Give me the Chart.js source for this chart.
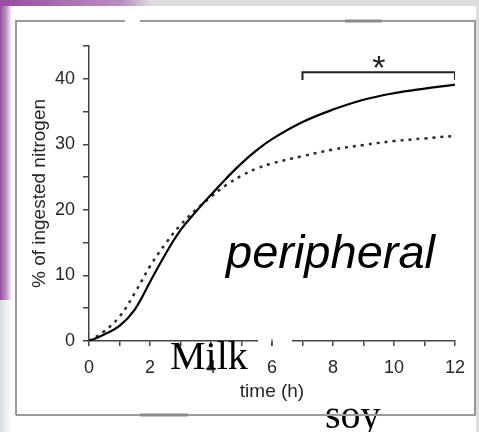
<!DOCTYPE html>
<html lang="en">
<head>
<meta charset="UTF-8">
<title>Nitrogen uptake</title>
<script src="https://cdn.jsdelivr.net/npm/chart.js"></script>
<style>
  html, body { margin: 0; padding: 0; background: #fff; }
</style>
</head>
<body>
<canvas id="uptakeChart" width="479" height="432"></canvas>
<script>
// hours after the meal and % of ingested nitrogen in the peripheral pool
const hours = [0, 0.5, 1, 1.5, 2, 2.5, 3, 3.5, 4, 4.5, 5, 5.5, 6, 7, 8, 9, 10, 11, 12];
const milkUptake = [0, 1.0, 2.3, 4.8, 9.0, 13.2, 16.9, 19.7, 22.3, 24.8, 27.1, 29.1, 30.8, 33.4, 35.3, 36.8, 37.8, 38.5, 39.1];
const soyUptake = [0, 1.5, 3.7, 7.3, 11.4, 14.8, 17.7, 20.0, 22.0, 23.8, 25.2, 26.3, 27.1, 28.2, 29.2, 29.9, 30.5, 30.9, 31.3];

// significance bracket over 7-12 h
const bracketX = [7, 7, 12, 12];
const bracketY = [39.8, 41, 41, 39.8];
const asteriskAt = [9.5, 42.6];

const xMax = 12;
const yMax = 45;

const toPoints = (xs, ys) => xs.map((x, i) => ({ x: x, y: ys[i] }));

const axisFont = { family: 'Liberation Sans, Arial, sans-serif', size: 18 };
const titleFont = { family: 'Liberation Sans, Arial, sans-serif', size: 19 };
const axisText = '#262626';

const decorations = {
    id: 'decorations',
    beforeDraw(chart) {
        const c = chart.ctx;
        const w = chart.width, h = chart.height;
        c.save();
        c.fillStyle = '#fff';
        c.fillRect(0, 0, w, h);

        // slide edge: purple strip on the left, grey below and along the top
        let g = c.createLinearGradient(0, 0, 12, 0);
        g.addColorStop(0, 'rgba(150,75,160,1)');
        g.addColorStop(0.5, 'rgba(160,90,170,0.7)');
        g.addColorStop(1, 'rgba(160,90,170,0)');
        c.fillStyle = g;
        c.fillRect(0, 0, 12, 300);
        g = c.createLinearGradient(0, 0, 12, 0);
        g.addColorStop(0, '#d8dbde');
        g.addColorStop(1, 'rgba(216,219,222,0)');
        c.fillStyle = g;
        c.fillRect(0, 300, 12, h - 300);

        g = c.createLinearGradient(0, 0, 150, 0);
        g.addColorStop(0, 'rgba(150,75,160,1)');
        g.addColorStop(0.8, 'rgba(170,110,180,0.8)');
        g.addColorStop(1, '#dcdcdc');
        c.fillStyle = g;
        c.fillRect(0, 0, 150, 6);
        c.fillStyle = '#dcdcdc';
        c.fillRect(150, 0, w - 150, 6);
        c.fillRect(w - 3, 0, 3, h);
        c.restore();
    },
    afterDraw(chart) {
        const c = chart.ctx;
        const xs = chart.scales.x, ys = chart.scales.y;
        c.save();

        // break in the time axis, the tick at 6 h stays
        const x6 = xs.getPixelForValue(6);
        c.fillStyle = '#fff';
        c.fillRect(258, 339.5, 34, 3);
        c.strokeStyle = '#444';
        c.lineWidth = 1.5;
        c.beginPath();
        c.moveTo(x6, 339.5); c.lineTo(x6, 346);
        c.stroke();

        // asterisk over the bracket
        c.fillStyle = '#222';
        c.font = '34px Liberation Sans, Arial, sans-serif';
        c.textAlign = 'center';
        c.textBaseline = 'alphabetic';
        const m = c.measureText('*');
        const ax = xs.getPixelForValue(asteriskAt[0]);
        const ay = ys.getPixelForValue(asteriskAt[1]);
        c.fillText('*', ax, ay + (m.actualBoundingBoxAscent - m.actualBoundingBoxDescent) / 2);

        // labels
        c.fillStyle = '#000';
        c.textAlign = 'left';
        c.font = 'italic 47px Liberation Sans, Arial, sans-serif';
        c.fillText('peripheral', 226, 268);
        c.font = '40px Liberation Serif, Times New Roman, serif';
        c.fillText('Milk', 170, 369);
        c.fillText('soy', 325, 428);

        // outer frame
        c.strokeStyle = '#9a9a9a';
        c.lineWidth = 2;
        c.beginPath();
        c.moveTo(16, 415); c.lineTo(16, 21); c.lineTo(125, 21);
        c.moveTo(140, 21); c.lineTo(475, 21); c.lineTo(475, 415); c.lineTo(16, 415);
        c.stroke();
        c.strokeStyle = '#8a8a8a';
        c.lineWidth = 3;
        c.beginPath();
        c.moveTo(345, 21); c.lineTo(382, 21);
        c.moveTo(140, 415); c.lineTo(188, 415);
        c.stroke();
        c.restore();
    }
};

new Chart(document.getElementById('uptakeChart'), {
    type: 'line',
    data: {
        datasets: [
            {
                label: 'Milk',
                data: toPoints(hours, milkUptake),
                borderColor: '#000',
                borderWidth: 2.2,
                pointRadius: 0,
                tension: 0.4
            },
            {
                label: 'Soy',
                data: toPoints(hours, soyUptake),
                borderColor: '#2a2a2a',
                borderWidth: 2.5,
                borderDash: [3, 5],
                pointRadius: 0,
                tension: 0.4
            },
            {
                label: 'significance',
                data: toPoints(bracketX, bracketY),
                borderColor: '#222',
                borderWidth: 2,
                pointRadius: 0,
                tension: 0
            }
        ]
    },
    options: {
        responsive: false,
        animation: false,
        devicePixelRatio: 1,
        layout: { padding: { top: 46, right: 24, left: 0, bottom: 0 } },
        plugins: {
            legend: { display: false },
            tooltip: { enabled: false }
        },
        scales: {
            x: {
                type: 'linear',
                min: 0,
                max: xMax,
                afterFit: (scale) => { scale.height = 91; },
                ticks: {
                    stepSize: 1,
                    autoSkip: false,
                    maxRotation: 0,
                    padding: 11,
                    color: axisText,
                    font: axisFont,
                    callback: (v) => (v % 2 === 0 ? v : '')
                },
                grid: { drawOnChartArea: false, tickLength: 5, color: '#444', lineWidth: 1.5 },
                border: { color: '#444', width: 1.5 },
                title: {
                    display: true,
                    text: 'time (h)',
                    color: axisText,
                    font: titleFont,
                    padding: { top: 0, bottom: 29 }
                }
            },
            y: {
                min: 0,
                max: yMax,
                afterFit: (scale) => { scale.width = 89; },
                ticks: {
                    stepSize: 5,
                    autoSkip: false,
                    padding: 8,
                    color: axisText,
                    font: axisFont,
                    callback: (v) => (v % 10 === 0 ? v : '')
                },
                grid: { drawOnChartArea: false, tickLength: 6, color: '#444', lineWidth: 1.5 },
                border: { color: '#444', width: 1.5 },
                title: {
                    display: true,
                    text: '% of ingested nitrogen',
                    color: axisText,
                    font: titleFont,
                    padding: { top: 28, bottom: 0 }
                }
            }
        }
    },
    plugins: [decorations]
});
</script>
</body>
</html>
